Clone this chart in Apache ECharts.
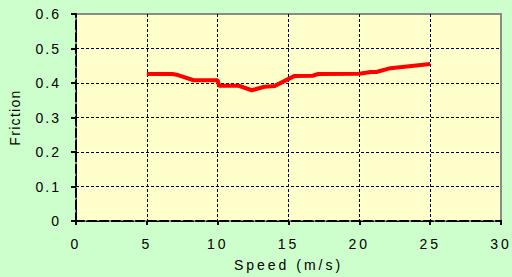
<!DOCTYPE html>
<html><head><meta charset="utf-8">
<script src="https://cdn.jsdelivr.net/npm/echarts@6/dist/echarts.min.js"></script>
<style>html,body{margin:0;padding:0;background:#CCFFCC;}#c{width:512px;height:277px;}</style>
</head><body><div id="c"></div>
<script>
const speed = [5, 6.8, 7.2, 8.3, 10, 10.1, 11.5, 12.4, 13.3, 14, 15.4, 16.7, 17.1, 20, 20.8, 21.2, 22.2, 25];
const friction = [0.426, 0.426, 0.423, 0.408, 0.408, 0.392, 0.392, 0.379, 0.389, 0.391, 0.420, 0.421, 0.426, 0.427, 0.432, 0.432, 0.443, 0.455];
const xTicks = [0, 5, 10, 15, 20, 25, 30];
const yTicks = [0, 0.1, 0.2, 0.3, 0.4, 0.5, 0.6];
const xName = 'Speed (m/s)';
const yName = 'Friction';
const font = 'Liberation Sans, Arial, sans-serif';
const chart = echarts.init(document.getElementById('c'), null, {renderer: 'svg'});
chart.setOption({
  backgroundColor: '#CCFFCC',
  animation: false,
  grid: {left: 73, right: 11, top: 14, bottom: 56, show: true, backgroundColor: '#FFFFCC', borderColor: '#8a8a8a', borderWidth: 2},
  xAxis: {
    type: 'value', min: 0, max: 30, interval: 5,
    name: xName, nameLocation: 'middle', nameGap: 37,
    nameTextStyle: {fontFamily: font, fontSize: 14, color: '#000'},
    axisLine: {onZero: false, lineStyle: {color: '#000', width: 2, type: 'dashed'}},
    axisTick: {show: true, length: 4, inside: false, lineStyle: {color: '#000', width: 2}},
    axisLabel: {fontFamily: font, fontSize: 14, color: '#000', margin: 16, formatter: v => xTicks.includes(v) ? String(v) : ''},
    splitLine: {show: true, showMaxLine: false, lineStyle: {color: '#000', type: [3, 2], width: 1}}
  },
  yAxis: {
    type: 'value', min: 0, max: 0.6, interval: 0.1,
    name: yName, nameLocation: 'middle', nameGap: 54, nameRotate: 90,
    nameTextStyle: {fontFamily: font, fontSize: 14, color: '#000'},
    axisLine: {lineStyle: {color: '#000', width: 2, type: 'dashed'}},
    axisTick: {show: true, length: 5, lineStyle: {color: '#000', width: 2}},
    axisLabel: {fontFamily: font, fontSize: 14, color: '#000', margin: 15, formatter: v => { const t = yTicks.find(y => Math.abs(y - v) < 1e-9); return t === undefined ? '' : String(t); }},
    splitLine: {show: true, showMaxLine: false, lineStyle: {color: '#000', type: [3, 2], width: 1}}
  },
  series: [{
    type: 'line', data: speed.map((s, i) => [s, friction[i]]),
    showSymbol: false, lineStyle: {color: '#FF0000', width: 4}, itemStyle: {color: '#FF0000'}
  }]
});
// widen letter spacing like the original
document.querySelectorAll('#c svg text').forEach(t => {
  const s = t.textContent;
  if (s === xName) t.style.letterSpacing = '3px';
  else if (s === yName) t.style.letterSpacing = '1.3px';
  else if (xTicks.map(String).includes(s) && t.getAttribute('text-anchor') === 'middle') t.style.letterSpacing = '3px';
  else t.style.letterSpacing = '2px';
});
</script></body></html>
